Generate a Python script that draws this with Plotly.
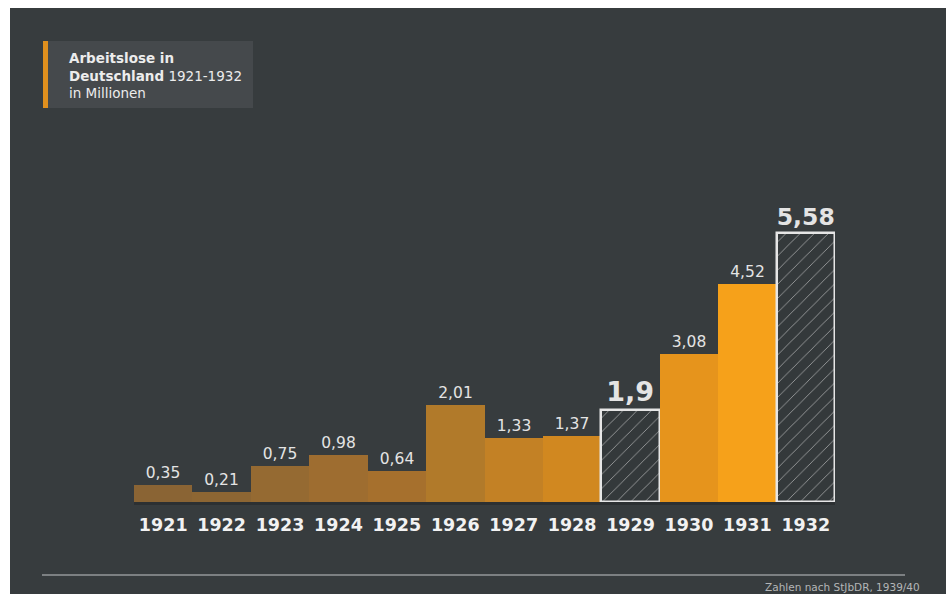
import plotly.graph_objects as go

years = ["1921", "1922", "1923", "1924", "1925", "1926", "1927", "1928", "1929", "1930", "1931", "1932"]
values = [0.35, 0.21, 0.75, 0.98, 0.64, 2.01, 1.33, 1.37, 1.9, 3.08, 4.52, 5.58]
highlight = [False] * 8 + [True] + [False, False] + [True]
bar_colors = ["#8a6434", "#8d6633", "#956a32", "#9e6d30", "#a6702d", "#b17a2a",
              "#c38125", "#d18820", "#34393b", "#e6941c", "#f6a11a", "#34393b"]

W, H = 946, 594
L, R, T, B = 134, 111, 150, 92
PW, PH = W - L - R, H - T - B
BG = "#373c3e"
FONT = "DejaVu Sans"


def px(x):
    return (x - L) / PW


def py(y):
    return (H - B - y) / PH


labels = [f"{v:g}".replace(".", ",") for v in values]
label_text = [f"<b>{t}</b>" if h else t for t, h in zip(labels, highlight)]
label_size = [27 if h else 15.5 for h in highlight]

fig = go.Figure()
fig.add_trace(go.Bar(
    x=years,
    y=values,
    width=1.0,
    marker=dict(
        color=bar_colors,
        line=dict(color=["#e6e6e6" if h else "rgba(0,0,0,0)" for h in highlight],
                  width=[2.5 if h else 0 for h in highlight]),
        pattern=dict(shape=["/" if h else "" for h in highlight],
                     fgcolor="#555a5c", bgcolor="#34393b", size=10, solidity=0.09),
    ),
    text=label_text,
    textposition="outside",
    textfont=dict(family=FONT, size=label_size, color="#e4e4e4"),
    cliponaxis=False,
    hoverinfo="skip",
))

shapes = [
    # dark background panel
    dict(type="rect", xref="paper", yref="paper", x0=px(10), x1=px(W), y0=py(H), y1=py(8),
         fillcolor=BG, line=dict(width=0), layer="below"),
    # legend box
    dict(type="rect", xref="paper", yref="paper", x0=px(43), x1=px(253), y0=py(108), y1=py(41),
         fillcolor="#45494c", line=dict(width=0), layer="below"),
    dict(type="rect", xref="paper", yref="paper", x0=px(43), x1=px(48), y0=py(108), y1=py(41),
         fillcolor="#e0901e", line=dict(width=0), layer="below"),
    # bottom rule
    dict(type="line", xref="paper", yref="paper", x0=px(42), x1=px(905), y0=py(575), y1=py(575),
         line=dict(color="#7c8082", width=2)),
]

annotations = [
    dict(xref="paper", yref="paper", x=px(67), y=py(48), xanchor="left", yanchor="top",
         text="<b>Arbeitslose in</b><br><b>Deutschland</b> 1921-1932<br>in Millionen",
         align="left", showarrow=False,
         font=dict(family=FONT, size=13.5, color="#ececec")),
    dict(xref="paper", yref="paper", x=px(922), y=py(587), xanchor="right", yanchor="middle",
         text="Zahlen nach StJbDR, 1939/40", showarrow=False,
         font=dict(family=FONT, size=10.5, color="#b4b6b7")),
]

fig.update_layout(
    width=W, height=H,
    margin=dict(l=L, r=R, t=T, b=B, pad=0),
    paper_bgcolor="white",
    plot_bgcolor="rgba(0,0,0,0)",
    showlegend=False,
    bargap=0,
    shapes=shapes,
    annotations=annotations,
    xaxis=dict(
        type="category",
        range=[-0.5, 11.5],
        tickmode="array",
        tickvals=years,
        ticktext=[f"<b>{y}</b>" for y in years],
        tickfont=dict(family=FONT, size=17.5, color="#f2f2f2"),
        ticks="outside", ticklen=5, tickcolor="rgba(0,0,0,0)",
        showline=True, linecolor="#2c3032", linewidth=3,
        showgrid=False, zeroline=False,
        fixedrange=True,
    ),
    yaxis=dict(
        range=[0, PH / 48.2],
        visible=False,
        showgrid=False, zeroline=False,
        fixedrange=True,
    ),
)

fig.write_html("out.html")
